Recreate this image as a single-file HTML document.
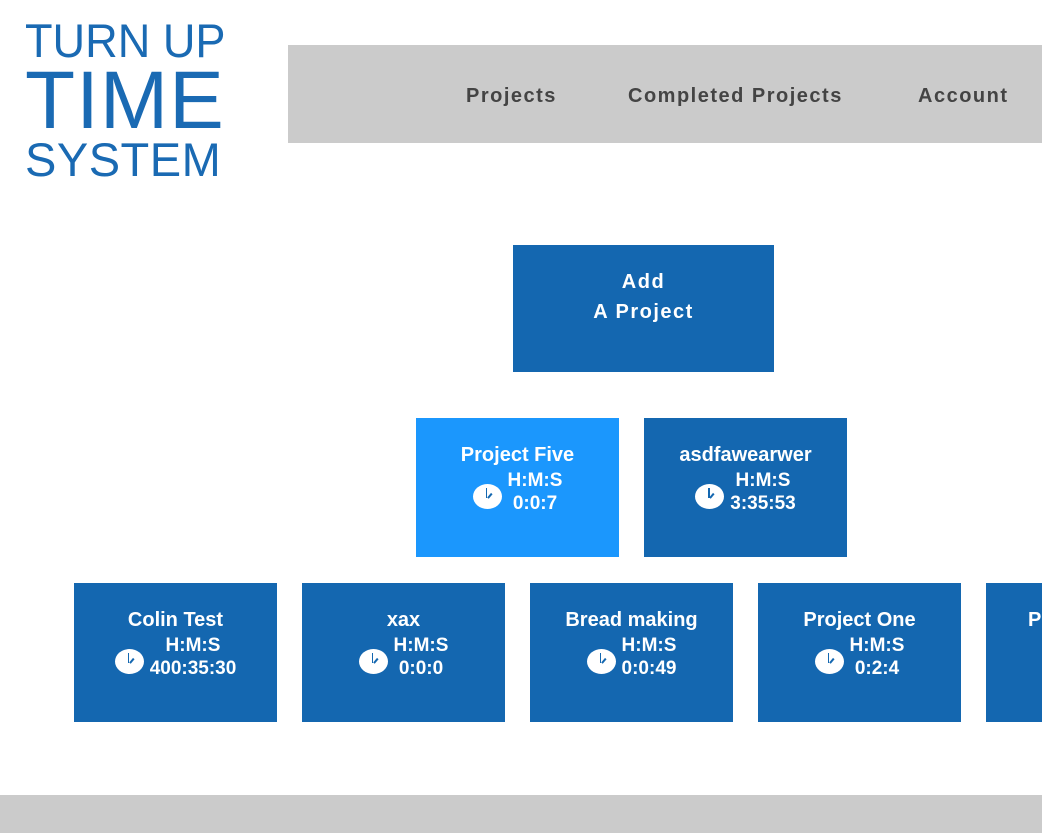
<!DOCTYPE html>
<html><head><style>
html,body{margin:0;width:1042px;height:833px;overflow:hidden}
body{position:relative;background:#fff;font-family:"Liberation Sans",Arial,sans-serif}
.logo{position:absolute;left:25px;color:#1a6ab3;font-weight:normal;line-height:1;white-space:nowrap;transform-origin:left top}
.nav{position:absolute;left:288px;top:45px;width:754px;height:98px;background:#cbcbcb;overflow:hidden}
.nav span{position:absolute;top:40px;font-weight:bold;font-size:20px;color:#444;letter-spacing:1.5px}
.box{position:absolute;background:#1467b0;color:#fff;font-weight:bold;text-align:center;overflow:hidden}
.card{width:203px;height:139px}
.t{position:absolute;left:-50px;right:-50px;top:26px;font-size:20px;white-space:nowrap}
.row{position:absolute;left:-50px;right:-50px;top:51px;display:flex;justify-content:center;align-items:center}
.clk{width:29px;height:25px;border-radius:50%;background:#fff;position:relative;margin-top:8px;margin-right:6px}
.clk:before{content:"";position:absolute;left:13px;top:4px;width:1.5px;height:10px;background:#1467b0}
.clk:after{content:"";position:absolute;left:14px;top:8px;width:1.5px;height:6px;background:#1467b0;transform:rotate(40deg);transform-origin:bottom}
.hm{font-size:19px;line-height:23px;text-align:center}
</style></head><body>
<div class="logo" style="top:17px;font-size:47px;transform:scaleX(0.96)">TURN UP</div>
<div class="logo" style="top:60px;font-size:82px;letter-spacing:1px">TIME</div>
<div class="logo" style="top:136px;font-size:47px;letter-spacing:0.5px">SYSTEM</div>
<div class="nav"><span style="left:178px">Projects</span><span style="left:340px">Completed Projects</span><span style="left:630px">Account</span></div>
<div class="box" style="left:513px;top:245px;width:261px;height:127px;font-size:20px;line-height:30px;padding-top:22px;box-sizing:border-box;letter-spacing:1.5px">Add<br>A Project</div>

<div class="box card" style="left:416px;top:418px;background:#1b97fd"><div class="t">Project Five</div><div class="row"><div class="clk"></div><div class="hm">H:M:S<br>0:0:7</div></div></div>
<div class="box card" style="left:644px;top:418px"><div class="t">asdfawearwer</div><div class="row"><div class="clk"></div><div class="hm">H:M:S<br>3:35:53</div></div></div>

<div class="box card" style="left:74px;top:583px"><div class="t">Colin Test</div><div class="row"><div class="clk"></div><div class="hm">H:M:S<br>400:35:30</div></div></div>
<div class="box card" style="left:302px;top:583px"><div class="t">xax</div><div class="row"><div class="clk"></div><div class="hm">H:M:S<br>0:0:0</div></div></div>
<div class="box card" style="left:530px;top:583px"><div class="t">Bread making</div><div class="row"><div class="clk"></div><div class="hm">H:M:S<br>0:0:49</div></div></div>
<div class="box card" style="left:758px;top:583px"><div class="t">Project One</div><div class="row"><div class="clk"></div><div class="hm">H:M:S<br>0:2:4</div></div></div>
<div class="box" style="left:986px;top:583px;width:56px;height:139px"><div style="position:absolute;left:42px;top:26px;font-size:20px;white-space:nowrap">P</div></div>

<div style="position:absolute;left:0;top:795px;width:1042px;height:38px;background:#cbcbcb"></div>
</body></html>
